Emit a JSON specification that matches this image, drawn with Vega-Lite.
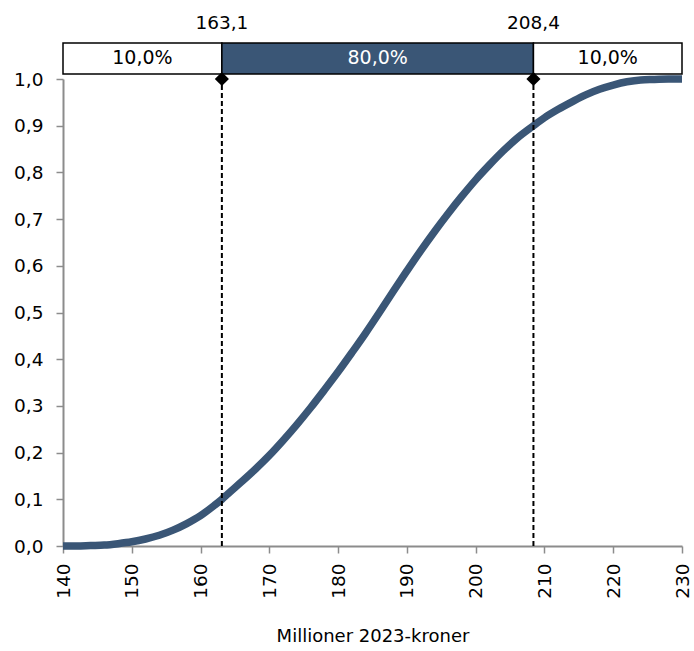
{
  "$schema": "https://vega.github.io/schema/vega-lite/v6.json",
  "width": 619,
  "height": 467,
  "autosize": {"type": "none"},
  "padding": {"left": 63, "top": 79, "right": 12, "bottom": 105},
  "background": "white",
  "config": {
    "locale": {"number": {"decimal": ",", "thousands": ".", "grouping": [3], "currency": ["", " kr"]}},
    "view": {"stroke": null},
    "font": "DejaVu Sans",
    "axis": {
      "grid": false,
      "domainColor": "#8c8c8c",
      "domainWidth": 2,
      "tickColor": "#8c8c8c",
      "tickWidth": 1.5,
      "tickSize": 7,
      "labelColor": "#000000",
      "labelFont": "DejaVu Sans",
      "labelFontSize": 18.5,
      "titleFont": "DejaVu Sans",
      "titleFontSize": 18,
      "titleFontWeight": "normal",
      "titleColor": "#000000"
    }
  },
  "datasets": {
    "cdf": [
      {"x": 140, "p": 0}, {"x": 142, "p": 0}, {"x": 144, "p": 0.001}, {"x": 146, "p": 0.002},
      {"x": 148, "p": 0.005}, {"x": 150, "p": 0.009}, {"x": 152, "p": 0.015}, {"x": 154, "p": 0.023},
      {"x": 156, "p": 0.034}, {"x": 158, "p": 0.048}, {"x": 160, "p": 0.065}, {"x": 162, "p": 0.087},
      {"x": 163.1, "p": 0.1}, {"x": 164, "p": 0.112}, {"x": 166, "p": 0.138}, {"x": 168, "p": 0.165},
      {"x": 170, "p": 0.194}, {"x": 172, "p": 0.226}, {"x": 174, "p": 0.26}, {"x": 176, "p": 0.296},
      {"x": 178, "p": 0.334}, {"x": 180, "p": 0.373}, {"x": 182, "p": 0.414}, {"x": 184, "p": 0.456},
      {"x": 186, "p": 0.5}, {"x": 188, "p": 0.545}, {"x": 190, "p": 0.589}, {"x": 192, "p": 0.632},
      {"x": 194, "p": 0.673}, {"x": 196, "p": 0.712}, {"x": 198, "p": 0.749}, {"x": 200, "p": 0.784},
      {"x": 202, "p": 0.816}, {"x": 204, "p": 0.846}, {"x": 206, "p": 0.873}, {"x": 208.4, "p": 0.9},
      {"x": 210, "p": 0.917}, {"x": 212, "p": 0.935}, {"x": 214, "p": 0.951}, {"x": 216, "p": 0.966},
      {"x": 218, "p": 0.978}, {"x": 220, "p": 0.987}, {"x": 222, "p": 0.994}, {"x": 224, "p": 0.998},
      {"x": 226, "p": 0.999}, {"x": 228, "p": 1.0}, {"x": 230, "p": 1.0}
    ],
    "band": [
      {"from": 140, "to": 163.1, "share": 0.1},
      {"from": 163.1, "to": 208.4, "share": 0.8},
      {"from": 208.4, "to": 230, "share": 0.1}
    ],
    "pct": [{"value": 163.1}, {"value": 208.4}]
  },
  "layer": [
    {
      "data": {"name": "cdf"},
      "mark": {"type": "line", "color": "#3A5676", "strokeWidth": 7.5, "interpolate": "monotone"},
      "encoding": {
        "x": {"field": "x", "type": "quantitative", "scale": {"domain": [140, 230], "nice": false, "zero": false},
              "axis": {"title": "Millioner 2023-kroner", "values": [140,150,160,170,180,190,200,210,220,230], "labelAngle": -90, "labelPadding": 10, "titlePadding": 29}},
        "y": {"field": "p", "type": "quantitative", "scale": {"domain": [0, 1], "nice": false},
              "axis": {"title": null, "values": [0,0.1,0.2,0.3,0.4,0.5,0.6,0.7,0.8,0.9,1], "format": ".1f", "labelPadding": 13}}
      }
    },
    {
      "data": {"name": "pct"},
      "mark": {"type": "rule", "color": "#000000", "strokeWidth": 2, "strokeDash": [5, 3]},
      "encoding": {
        "x": {"field": "value", "type": "quantitative"},
        "y": {"datum": 0, "type": "quantitative"},
        "y2": {"datum": 1}
      }
    },
    {
      "data": {"name": "band"},
      "mark": {"type": "rect", "stroke": "#000000", "strokeWidth": 1.5},
      "encoding": {
        "x": {"field": "from", "type": "quantitative"},
        "x2": {"field": "to"},
        "y": {"datum": 1.0107, "type": "quantitative"},
        "y2": {"datum": 1.0771},
        "fill": {"condition": {"test": "datum.share > 0.5", "value": "#3A5676"}, "value": "#ffffff"}
      }
    },
    {
      "data": {"name": "band"},
      "transform": [{"calculate": "(datum.from + datum.to) / 2", "as": "mid"}],
      "mark": {"type": "text", "fontSize": 19, "baseline": "middle", "align": "center"},
      "encoding": {
        "x": {"field": "mid", "type": "quantitative"},
        "y": {"datum": 1.044, "type": "quantitative"},
        "text": {"field": "share", "type": "quantitative", "format": ".1%"},
        "color": {"condition": {"test": "datum.share > 0.5", "value": "#ffffff"}, "value": "#000000"}
      }
    },
    {
      "data": {"name": "pct"},
      "mark": {"type": "point", "shape": "diamond", "filled": true, "color": "#000000", "size": 200, "opacity": 1},
      "encoding": {
        "x": {"field": "value", "type": "quantitative"},
        "y": {"datum": 1, "type": "quantitative"}
      }
    },
    {
      "data": {"name": "pct"},
      "mark": {"type": "text", "fontSize": 18.5, "baseline": "middle", "align": "center", "color": "#000000"},
      "encoding": {
        "x": {"field": "value", "type": "quantitative"},
        "y": {"datum": 1.12, "type": "quantitative"},
        "text": {"field": "value", "type": "quantitative", "format": ".1f"}
      }
    }
  ]
}
